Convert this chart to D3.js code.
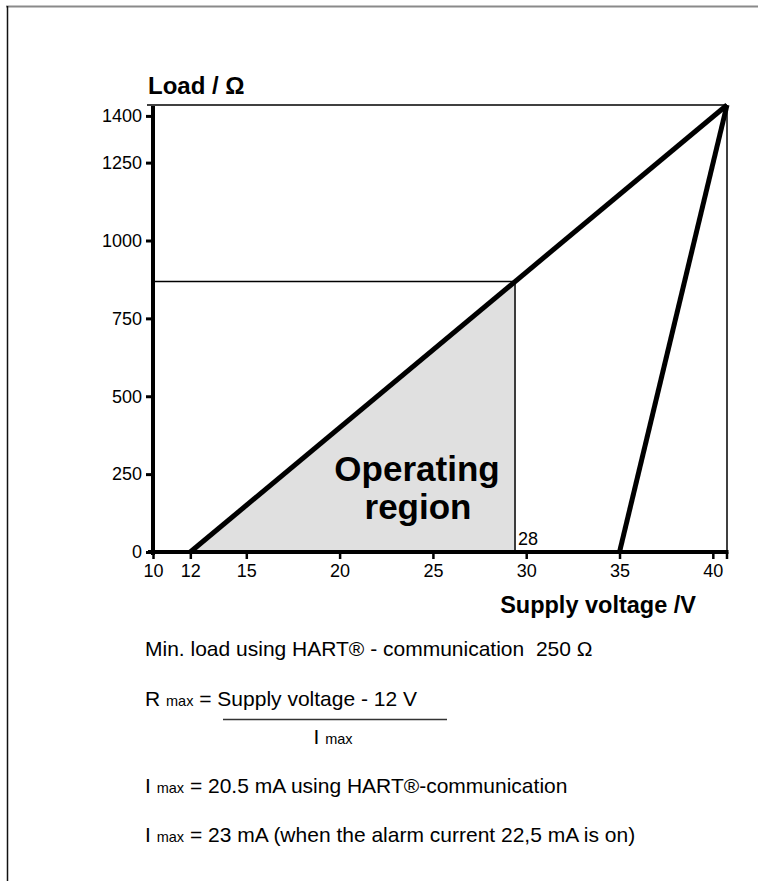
<!DOCTYPE html>
<html><head><meta charset="utf-8">
<script src="https://cdn.jsdelivr.net/npm/d3@7"></script>
<style>html,body{margin:0;padding:0;background:#fff;} svg{display:block;} text{font-family:"Liberation Sans",Arial,sans-serif;fill:#000;}</style>
</head><body>
<script>
// ---- data ----
const xTicks = [10, 12, 15, 20, 25, 30, 35, 40];
const yTicks = [0, 250, 500, 750, 1000, 1250, 1400];
const xDomain = [10, 40.76];
const yDomain = [0, 1435];
const loadLine = [[12, 0], [40.76, 1435]];      // HART limit line
const alarmLine = [[35, 0], [40.76, 1435]];     // steep line
const operatingRegion = [[12, 0], [29.4, 868], [29.4, 0]];
const hartPoint = [29.4, 868];
const hartLabel = "28";
const yTitle = "Load / Ω";
const xTitle = "Supply voltage /V";
const regionLabel = ["Operating", "region"];

const W = 758, H = 881;
const FONT = '"Liberation Sans",Arial,sans-serif';
const svg = d3.select("body").append("svg").attr("width", W).attr("height", H);

// page border
svg.append("line").attr("x1", 6).attr("x2", W).attr("y1", 6.5).attr("y2", 6.5).attr("stroke", "#8a8a8a").attr("stroke-width", 2);
svg.append("line").attr("x1", 7.5).attr("x2", 7.5).attr("y1", 6).attr("y2", H).attr("stroke", "#111").attr("stroke-width", 1.5);

const x = d3.scaleLinear().domain(xDomain).range([153, 727]);
const y = d3.scaleLinear().domain(yDomain).range([552, 105]);

// fill
svg.append("path").datum(operatingRegion)
  .attr("d", d3.line().x(d => x(d[0])).y(d => y(d[1])))
  .attr("fill", "#e0e0e0").attr("stroke", "none");

// frame thin lines
svg.append("line").attr("x1", 147).attr("x2", x(xDomain[1])).attr("y1", y(yDomain[1])).attr("y2", y(yDomain[1])).attr("stroke", "#000").attr("stroke-width", 1.5);
svg.append("line").attr("x1", x(xDomain[1])).attr("x2", x(xDomain[1])).attr("y1", y(yDomain[1])).attr("y2", y(0)).attr("stroke", "#000").attr("stroke-width", 1.5);

// HART guide lines
svg.append("line").attr("x1", x(10)).attr("x2", x(hartPoint[0])).attr("y1", y(hartPoint[1])).attr("y2", y(hartPoint[1])).attr("stroke", "#000").attr("stroke-width", 1.5);
svg.append("line").attr("x1", x(hartPoint[0])).attr("x2", x(hartPoint[0])).attr("y1", y(hartPoint[1])).attr("y2", y(0)).attr("stroke", "#000").attr("stroke-width", 1.5);
svg.append("text").attr("x", x(hartPoint[0]) + 3).attr("y", y(0) - 7).attr("font-size", 18).text(hartLabel);

// axes
const xAxis = d3.axisBottom(x).tickValues(xTicks).tickSize(7).tickPadding(5).tickFormat(d3.format("d"));
const gx = svg.append("g").attr("transform", `translate(0,${y(0)})`).call(xAxis);
gx.select(".domain").remove();
gx.selectAll(".tick line").attr("stroke", "#000").attr("stroke-width", 2.5);
gx.selectAll(".tick text").attr("font-size", 18).attr("font-family", FONT);
gx.append("line").attr("x1", x(xDomain[1])).attr("x2", x(xDomain[1])).attr("y1", 0).attr("y2", 7).attr("stroke", "#000").attr("stroke-width", 2.5);
svg.append("line").attr("x1", 148).attr("x2", x(xDomain[1]) + 1.5).attr("y1", y(0)).attr("y2", y(0)).attr("stroke", "#000").attr("stroke-width", 4);

const yAxis = d3.axisLeft(y).tickValues(yTicks).tickSize(7).tickPadding(4).tickFormat(d3.format("d"));
const gy = svg.append("g").attr("transform", `translate(${x(10)},0)`).call(yAxis);
gy.select(".domain").remove();
gy.selectAll(".tick line").attr("stroke", "#000").attr("stroke-width", 3);
gy.selectAll(".tick text").attr("font-size", 18).attr("font-family", FONT);
svg.append("line").attr("x1", x(10)).attr("x2", x(10)).attr("y1", y(yDomain[1]) + 1).attr("y2", y(0) + 3).attr("stroke", "#000").attr("stroke-width", 4);

// thick lines
const ln = d3.line().x(d => x(d[0])).y(d => y(d[1]));
svg.append("path").datum(loadLine).attr("d", ln).attr("stroke", "#000").attr("stroke-width", 5).attr("fill", "none");
svg.append("path").datum(alarmLine).attr("d", ln).attr("stroke", "#000").attr("stroke-width", 5).attr("fill", "none");

// titles
svg.append("text").attr("x", 148).attr("y", 94).attr("font-size", 24).attr("font-weight", "bold").text(yTitle);
svg.append("text").attr("x", 696).attr("y", 613).attr("text-anchor", "end").attr("font-size", 23.5).attr("font-weight", "bold").text(xTitle);
svg.append("text").attr("x", 417).attr("y", 481).attr("text-anchor", "middle").attr("font-size", 35).attr("font-weight", "bold").text(regionLabel[0]);
svg.append("text").attr("x", 418).attr("y", 519).attr("text-anchor", "middle").attr("font-size", 35).attr("font-weight", "bold").text(regionLabel[1]);

// notes
const fs = 21, sub = 14.5;
svg.append("text").attr("x", 145).attr("y", 656).attr("font-size", fs).attr("xml:space", "preserve").text("Min. load using HART® - communication  250 Ω");
const t2 = svg.append("text").attr("x", 145).attr("y", 706).attr("font-size", fs).attr("xml:space", "preserve");
t2.append("tspan").text("R ");
t2.append("tspan").attr("font-size", sub).text("max");
t2.append("tspan").text(" = Supply voltage - 12 V");
svg.append("line").attr("x1", 223).attr("x2", 447).attr("y1", 719.5).attr("y2", 719.5).attr("stroke", "#333").attr("stroke-width", 1.3);
const t3 = svg.append("text").attr("x", 333).attr("y", 744).attr("text-anchor", "middle").attr("font-size", fs).attr("xml:space", "preserve");
t3.append("tspan").text("I ");
t3.append("tspan").attr("font-size", sub).text("max");
const t4 = svg.append("text").attr("x", 145).attr("y", 793).attr("font-size", fs).attr("xml:space", "preserve");
t4.append("tspan").text("I ");
t4.append("tspan").attr("font-size", sub).text("max");
t4.append("tspan").text(" = 20.5 mA using HART®-communication");
const t5 = svg.append("text").attr("x", 145).attr("y", 842).attr("font-size", fs).attr("xml:space", "preserve");
t5.append("tspan").text("I ");
t5.append("tspan").attr("font-size", sub).text("max");
t5.append("tspan").text(" = 23 mA (when the alarm current 22,5 mA is on)");
</script>
</body></html>
